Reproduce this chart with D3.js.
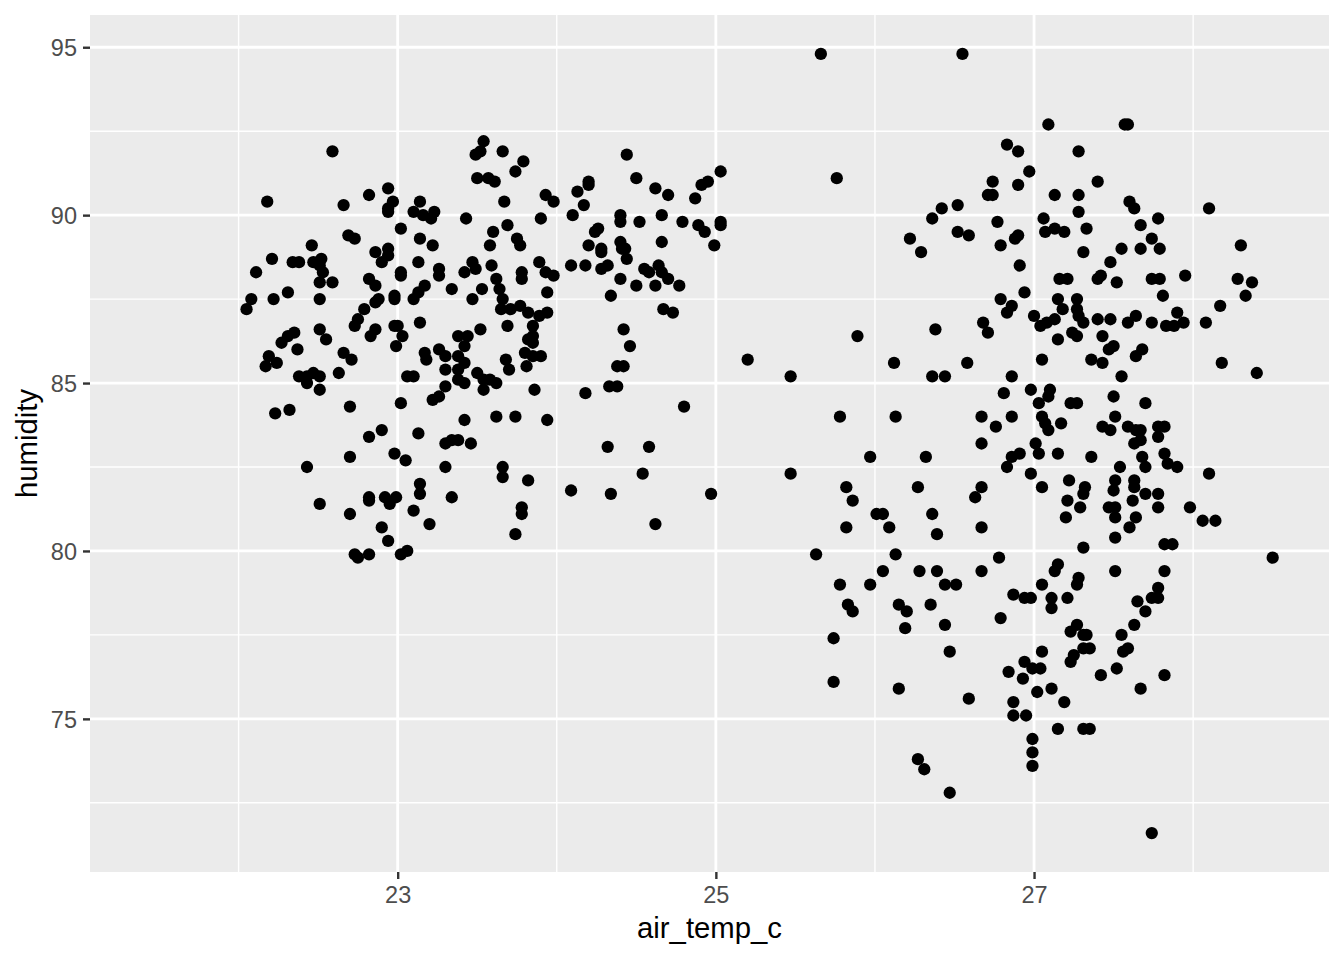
<!DOCTYPE html>
<html>
<head>
<meta charset="utf-8">
<script src="https://cdn.jsdelivr.net/npm/d3@7"></script>
<style>
  html, body { margin: 0; padding: 0; background: #ffffff; }
  svg { display: block; }
</style>
</head>
<body>
<svg id="chart" width="1344" height="960"></svg>
<script>
// ---- data (air temperature °C, relative humidity %) ----
const coolTemp = [
  22.59,23.54,23.52,23.49,23.50,23.57,23.61,22.18,22.66,22.82,
  22.94,22.97,22.94,22.94,23.14,23.10,23.16,23.23,23.21,23.43,
  23.02,22.69,22.73,23.14,23.22,22.46,22.21,22.11,22.34,22.38,
  22.47,22.52,22.51,22.53,22.51,22.59,22.31,22.22,22.08,22.05,
  22.51,22.86,22.94,22.94,22.90,23.02,23.02,23.13,22.82,22.86,
  23.26,23.26,23.42,23.47,23.49,23.34,23.53,23.47,23.17,23.13,
  23.10,22.98,22.98,22.88,22.86,22.79,
  23.66,23.79,23.74,23.67,23.93,23.98,24.13,24.20,24.20,24.44,
  24.50,24.62,24.70,24.87,24.91,24.95,25.03,24.17,24.10,23.90,
  23.69,23.60,23.58,23.75,23.77,24.40,24.40,24.52,24.66,24.79,
  24.89,24.93,25.03,25.03,24.26,24.24,24.20,24.28,24.28,24.40,
  24.41,24.43,24.44,24.66,24.99,23.59,23.89,23.93,23.98,23.78,
  23.78,23.62,23.64,23.66,23.94,24.09,24.18,24.28,24.32,24.40,
  24.50,24.62,24.77,24.55,24.58,24.64,24.66,24.70,24.34,
  22.75,22.73,22.51,22.55,22.35,22.31,22.27,22.37,22.19,22.24,
  22.17,22.86,22.83,22.98,23.00,23.03,22.99,23.14,22.66,22.71,
  22.63,22.38,22.43,22.47,22.51,22.43,22.51,23.17,23.18,23.26,
  23.30,23.38,23.44,23.42,23.52,23.38,23.42,23.38,23.38,23.42,
  23.30,23.50,23.54,23.54,23.06,23.10,23.30,23.26,23.22,23.02,
  22.70,22.23,22.32,23.42,22.90,22.82,23.13,23.30,23.34,23.38,
  23.46,22.98,23.05,22.70,22.43,23.30,23.14,23.14,22.82,22.82,
  22.92,22.95,22.99,23.34,22.51,22.70,23.10,23.20,22.90,22.94,
  22.73,22.75,22.82,23.02,23.06,
  23.65,23.71,23.77,23.82,23.89,23.94,24.67,24.73,23.69,23.85,
  23.85,23.82,23.85,24.42,24.46,23.80,23.85,23.90,23.68,23.70,
  23.81,24.38,24.42,25.20,23.62,23.58,23.86,24.18,24.33,24.38,
  24.80,23.62,23.74,23.94,24.32,24.58,23.66,23.66,23.82,24.54,
  24.09,24.34,24.97,23.78,23.78,24.62,23.74
];
const coolHum = [
  91.9,92.2,91.9,91.8,91.1,91.1,91.0,90.4,90.3,90.6,
  90.8,90.4,90.2,90.1,90.4,90.1,90.0,90.1,89.9,89.9,
  89.6,89.4,89.3,89.3,89.1,89.1,88.7,88.3,88.6,88.6,
  88.6,88.7,88.5,88.3,88.0,88.0,87.7,87.5,87.5,87.2,
  87.5,88.9,89.0,88.8,88.6,88.3,88.2,88.6,88.1,87.9,
  88.4,88.2,88.3,88.6,88.4,87.8,87.8,87.5,87.9,87.7,
  87.5,87.6,87.5,87.5,87.4,87.2,
  91.9,91.6,91.3,90.4,90.6,90.4,90.7,91.0,90.9,91.8,
  91.1,90.8,90.6,90.5,90.9,91.0,91.3,90.3,90.0,89.9,
  89.7,89.5,89.1,89.3,89.1,90.0,89.8,89.8,90.0,89.8,
  89.7,89.5,89.8,89.7,89.6,89.5,89.1,89.0,88.9,89.2,
  89.0,89.0,88.7,89.2,89.1,88.5,88.6,88.3,88.2,88.3,
  88.1,88.1,87.8,87.5,87.7,88.5,88.5,88.4,88.5,88.1,
  87.9,87.9,87.9,88.4,88.3,88.5,88.3,88.1,87.6,
  86.9,86.7,86.6,86.3,86.5,86.4,86.2,86.0,85.8,85.6,
  85.5,86.6,86.4,86.7,86.7,86.4,86.1,86.8,85.9,85.7,
  85.3,85.2,85.2,85.3,85.2,85.0,84.8,85.9,85.7,86.0,
  85.8,86.4,86.4,86.1,86.6,85.8,85.6,85.4,85.1,85.0,
  85.4,85.3,85.1,84.8,85.2,85.2,84.9,84.6,84.5,84.4,
  84.3,84.1,84.2,83.9,83.6,83.4,83.5,83.2,83.3,83.3,
  83.2,82.9,82.7,82.8,82.5,82.5,82.0,81.7,81.6,81.5,
  81.6,81.4,81.6,81.6,81.4,81.1,81.2,80.8,80.7,80.3,
  79.9,79.8,79.9,79.9,80.0,
  87.2,87.2,87.3,87.1,87.0,87.1,87.2,87.1,86.7,86.7,
  86.4,86.3,86.2,86.6,86.1,85.9,85.8,85.8,85.7,85.4,
  85.5,85.5,85.5,85.7,85.0,85.1,84.8,84.7,84.9,84.9,
  84.3,84.0,84.0,83.9,83.1,83.1,82.5,82.2,82.1,82.3,
  81.8,81.7,81.7,81.3,81.1,80.8,80.5
];
const warmTemp = [
  25.66,26.55,25.76,26.83,26.90,26.97,26.74,26.90,26.71,26.74,
  26.52,26.42,26.36,26.77,26.52,26.59,26.22,26.29,26.79,26.88,
  26.90,26.91,26.94,
  27.09,27.57,27.59,27.28,27.40,27.13,27.28,27.28,27.60,27.63,
  28.10,27.06,27.07,27.13,27.19,27.33,27.31,27.55,27.67,27.78,
  27.74,27.67,27.79,28.30,27.48,27.16,27.21,27.40,27.42,27.52,
  27.74,27.79,27.95,28.28,28.37,27.15,27.27,28.33,28.17,27.81,
  26.79,26.86,26.83,26.68,26.71,26.38,25.89,26.12,26.58,25.47,
  26.36,26.44,26.86,26.81,25.78,26.13,26.67,26.86,26.76,26.67,
  25.97,26.32,26.86,26.91,26.83,25.47,25.82,26.27,26.67,25.86,
  26.63,26.01,26.05,26.36,25.82,26.09,26.39,26.67,25.63,26.13,
  26.78,
  27.18,27.27,27.28,27.31,27.00,27.04,27.08,27.13,27.40,27.48,
  27.59,27.64,27.74,27.83,27.88,27.94,27.90,28.08,27.15,27.24,
  27.27,27.43,27.50,27.47,27.68,27.64,27.05,27.36,27.43,27.55,
  28.18,28.40,26.98,27.10,27.09,27.03,27.23,27.27,27.50,27.70,
  27.05,27.07,27.09,27.17,27.51,27.43,27.48,27.59,27.64,27.67,
  27.78,27.82,27.78,27.63,27.67,27.01,27.03,27.15,27.36,27.68,
  27.70,27.82,27.84,27.90,27.54,28.10,26.98,27.05,27.22,27.32,
  27.31,27.51,27.50,27.63,27.63,27.70,27.78,27.21,27.29,27.47,
  27.51,27.51,27.62,27.78,27.98,28.06,28.14,27.20,27.64,27.60,
  27.51,27.31,27.82,27.87,28.50,
  26.05,26.28,26.39,26.67,25.78,25.97,26.44,26.51,25.83,25.86,
  26.15,26.20,26.35,26.87,26.94,26.79,26.19,26.44,25.74,26.47,
  26.94,26.84,26.93,25.74,26.15,26.59,26.87,26.87,26.95,26.27,
  26.31,26.47,
  27.15,27.13,27.51,27.82,27.05,27.28,27.27,26.98,27.11,27.11,
  27.21,27.65,27.70,27.74,27.78,27.78,27.63,27.27,27.23,27.31,
  27.33,27.55,27.31,27.35,27.25,27.23,27.56,27.59,27.05,26.99,
  27.04,27.42,27.52,27.82,27.67,27.02,27.11,27.19,27.15,27.31,
  27.35,26.99,26.99,26.99,27.74
];
const warmHum = [
  94.8,94.8,91.1,92.1,91.9,91.3,91.0,90.9,90.6,90.6,
  90.3,90.2,89.9,89.8,89.5,89.4,89.3,88.9,89.1,89.3,
  89.4,88.5,87.7,
  92.7,92.7,92.7,91.9,91.0,90.6,90.6,90.1,90.4,90.2,
  90.2,89.9,89.5,89.6,89.5,89.6,88.9,89.0,89.7,89.9,
  89.3,89.0,89.0,89.1,88.6,88.1,88.1,88.1,88.2,88.0,
  88.1,88.1,88.2,88.1,88.0,87.5,87.5,87.6,87.3,87.6,
  87.5,87.3,87.1,86.8,86.5,86.6,86.4,85.6,85.6,85.2,
  85.2,85.2,85.2,84.7,84.0,84.0,84.0,84.0,83.7,83.2,
  82.8,82.8,82.8,82.9,82.5,82.3,81.9,81.9,81.9,81.5,
  81.6,81.1,81.1,81.1,80.7,80.7,80.5,80.7,79.9,79.9,
  79.8,
  87.2,87.2,87.0,86.8,87.0,86.7,86.8,86.9,86.9,86.9,
  86.8,87.0,86.8,86.7,86.7,86.8,87.1,86.8,86.3,86.5,
  86.4,86.4,86.1,86.0,86.0,85.8,85.7,85.7,85.6,85.2,
  85.6,85.3,84.8,84.8,84.6,84.4,84.4,84.4,84.6,84.4,
  84.0,83.8,83.6,83.8,84.0,83.7,83.6,83.7,83.6,83.6,
  83.7,83.7,83.4,83.2,83.3,83.2,82.9,82.9,82.8,82.8,
  82.5,82.9,82.6,82.5,82.5,82.3,82.3,81.9,82.1,81.9,
  81.7,82.1,81.8,82.1,81.9,81.7,81.7,81.5,81.3,81.3,
  81.3,81.0,81.5,81.3,81.3,80.9,80.9,81.0,81.0,80.7,
  80.4,80.1,80.2,80.2,79.8,
  79.4,79.4,79.4,79.4,79.0,79.0,79.0,79.0,78.4,78.2,
  78.4,78.2,78.4,78.7,78.6,78.0,77.7,77.8,77.4,77.0,
  76.7,76.4,76.2,76.1,75.9,75.6,75.5,75.1,75.1,73.8,
  73.5,72.8,
  79.6,79.4,79.4,79.4,79.0,79.2,79.0,78.6,78.6,78.3,
  78.6,78.5,78.2,78.6,78.6,78.9,77.8,77.8,77.6,77.5,
  77.5,77.5,77.1,77.1,76.9,76.7,77.0,77.1,77.0,76.5,
  76.5,76.3,76.5,76.3,75.9,75.8,75.9,75.5,74.7,74.7,
  74.7,74.4,74.0,73.6,71.6
];

// axis ranges of the underlying data (before ggplot's 5% expansion)
const xDataRange = [21.42, 28.50];
const yDataRange = [71.6, 94.8];
const xMajor = [23, 25, 27];
const xMinor = [22, 24, 26, 28];
const yMajor = [75, 80, 85, 90, 95];
const yMinor = [72.5, 77.5, 82.5, 87.5, 92.5];
const xTitle = "air_temp_c";
const yTitle = "humidity";

// ---- build ----
const points = [];
coolTemp.forEach((t, i) => points.push({ t, h: coolHum[i] }));
warmTemp.forEach((t, i) => points.push({ t, h: warmHum[i] }));

const W = 1344, H = 960;
const panel = { left: 90, right: 1329, top: 15, bottom: 872 };

function expand(r) { const d = (r[1] - r[0]) * 0.05; return [r[0] - d, r[1] + d]; }

const x = d3.scaleLinear().domain(expand(xDataRange)).range([panel.left, panel.right]);
const y = d3.scaleLinear().domain(expand(yDataRange)).range([panel.bottom, panel.top]);

const svg = d3.select("#chart");
svg.append("rect").attr("width", W).attr("height", H).attr("fill", "#ffffff");

svg.append("rect")
  .attr("x", panel.left).attr("y", panel.top)
  .attr("width", panel.right - panel.left).attr("height", panel.bottom - panel.top)
  .attr("fill", "#EBEBEB");

const grid = svg.append("g");
grid.selectAll("line.xminor").data(xMinor).join("line")
  .attr("x1", d => x(d)).attr("x2", d => x(d))
  .attr("y1", panel.top).attr("y2", panel.bottom)
  .attr("stroke", "#ffffff").attr("stroke-width", 1.4);
grid.selectAll("line.yminor").data(yMinor).join("line")
  .attr("y1", d => y(d)).attr("y2", d => y(d))
  .attr("x1", panel.left).attr("x2", panel.right)
  .attr("stroke", "#ffffff").attr("stroke-width", 1.4);
grid.selectAll("line.xmajor").data(xMajor).join("line")
  .attr("x1", d => x(d)).attr("x2", d => x(d))
  .attr("y1", panel.top).attr("y2", panel.bottom)
  .attr("stroke", "#ffffff").attr("stroke-width", 2.8);
grid.selectAll("line.ymajor").data(yMajor).join("line")
  .attr("y1", d => y(d)).attr("y2", d => y(d))
  .attr("x1", panel.left).attr("x2", panel.right)
  .attr("stroke", "#ffffff").attr("stroke-width", 2.8);

svg.append("g").selectAll("circle").data(points).join("circle")
  .attr("cx", d => x(d.t)).attr("cy", d => y(d.h))
  .attr("r", 6.15).attr("fill", "#000000");

// axes
const font = "'Liberation Sans', Arial, Helvetica, sans-serif";
const yAxis = d3.axisLeft(y).tickValues(yMajor).tickSize(7).tickPadding(6).tickFormat(d3.format("d"));
const gy = svg.append("g").attr("transform", `translate(${panel.left},0)`).call(yAxis);
const xAxis = d3.axisBottom(x).tickValues(xMajor).tickSize(7).tickPadding(6).tickFormat(d3.format("d"));
const gx = svg.append("g").attr("transform", `translate(0,${panel.bottom})`).call(xAxis);
[gx, gy].forEach(g => {
  g.select(".domain").remove();
  g.selectAll(".tick line").attr("stroke", "#333333").attr("stroke-width", 2.4);
  g.selectAll(".tick text").attr("fill", "#4D4D4D").style("font-family", font).style("font-size", "23.5px");
});
gy.selectAll(".tick text").attr("x", -13).attr("dy", "0.36em");
gx.selectAll(".tick text").attr("y", 13).attr("dy", "0.76em");

svg.append("text")
  .attr("x", (panel.left + panel.right) / 2).attr("y", 938)
  .attr("text-anchor", "middle")
  .style("font-family", font).style("font-size", "29.3px").attr("fill", "#000000")
  .text(xTitle);

svg.append("text")
  .attr("transform", `translate(37,${(panel.top + panel.bottom) / 2}) rotate(-90)`)
  .attr("text-anchor", "middle")
  .style("font-family", font).style("font-size", "29.3px").attr("fill", "#000000")
  .text(yTitle);
</script>
</body>
</html>
